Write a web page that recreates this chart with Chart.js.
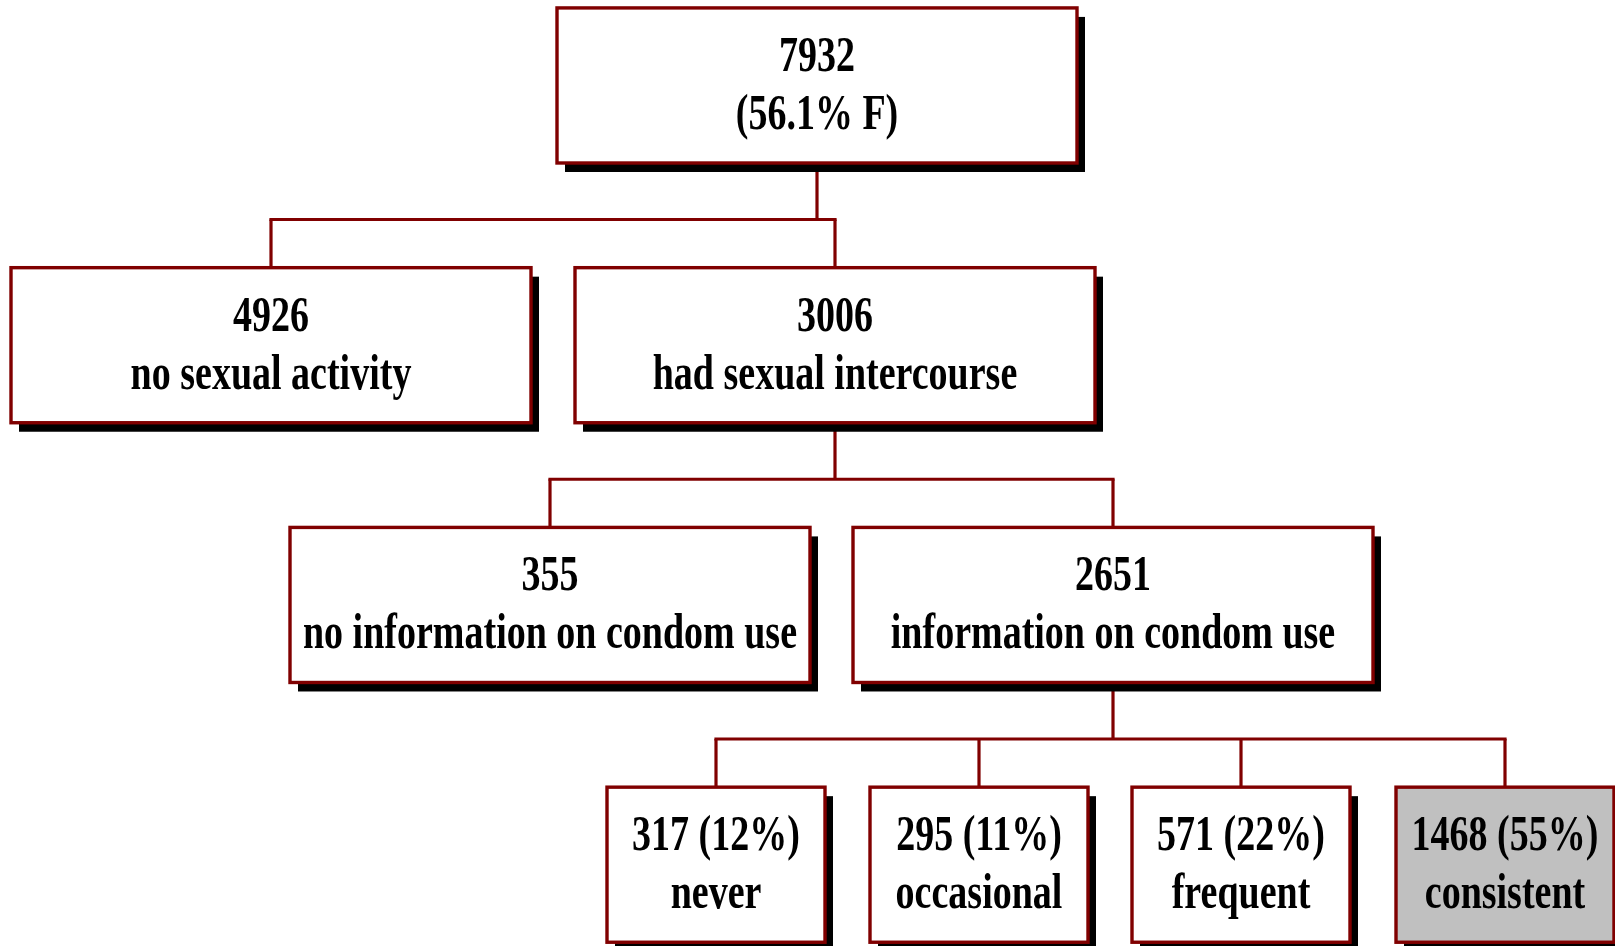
<!DOCTYPE html>
<html>
<head>
<meta charset="utf-8">
<title>Condom use tree</title>
<script src="https://cdn.jsdelivr.net/npm/chart.js@4.4.1/dist/chart.umd.min.js"></script>
<style>
    html, body { margin: 0; padding: 0; background: #ffffff; }
    #wrap { width: 1615px; height: 946px; }
</style>
</head>
<body>
<div id="wrap"><canvas id="tree" width="1615" height="946"></canvas></div>
<script>
// --- data ---
const counts = [7932, 4926, 3006, 355, 2651, 317, 295, 571, 1468];
const shares = ['56.1% F', null, null, null, null, '12%', '11%', '22%', '55%'];
const descriptions = [null, 'no sexual activity', 'had sexual intercourse',
    'no information on condom use', 'information on condom use',
    'never', 'occasional', 'frequent', 'consistent'];
const parents = [-1, 0, 0, 2, 2, 4, 4, 4, 4];
const highlighted = [8];

// --- layout (scale units) ---
const nodeX = [817, 271, 835, 550, 1113, 716, 979, 1241, 1505];
const nodeLevel = [0, 1, 1, 2, 2, 3, 3, 3, 3];
const levelBoxWidth = [520, 520, 520, 218];
const boxHeight = 0.597; // in level units

const BORDER = '#800000';
const SHADOW = '#000000';
const FONT = 'bold 50px "Liberation Serif", "Times New Roman", serif';

function nodeLines(i) {
    if (i === 0) return [String(counts[i]), '(' + shares[i] + ')'];
    if (shares[i]) return [counts[i] + ' (' + shares[i] + ')', descriptions[i]];
    return [String(counts[i]), descriptions[i]];
}

function boxRect(scales, i) {
    const { x, y } = scales;
    const w = levelBoxWidth[nodeLevel[i]];
    const left = x.getPixelForValue(nodeX[i] - w / 2);
    const right = x.getPixelForValue(nodeX[i] + w / 2);
    const top = y.getPixelForValue(nodeLevel[i] - boxHeight / 2);
    const bottom = y.getPixelForValue(nodeLevel[i] + boxHeight / 2);
    return { left, right, top, bottom, cx: x.getPixelForValue(nodeX[i]) };
}

const treePlugin = {
    id: 'treePlugin',
    beforeDatasetsDraw(chart) {
        const ctx = chart.ctx;
        const scales = chart.scales;

        // connectors: parent -> bus -> children
        ctx.save();
        ctx.strokeStyle = BORDER;
        ctx.lineWidth = 3.2;
        const parentIds = [...new Set(parents.filter((p) => p >= 0))];
        parentIds.forEach((p) => {
            const kids = parents.map((q, i) => (q === p ? i : -1)).filter((i) => i >= 0);
            const pr = boxRect(scales, p);
            const kr = kids.map((k) => boxRect(scales, k));
            const busY = pr.bottom + (kr[0].top - pr.bottom) * 0.54;
            ctx.beginPath();
            ctx.moveTo(pr.cx, pr.bottom);
            ctx.lineTo(pr.cx, busY);
            ctx.stroke();
            ctx.beginPath();
            ctx.moveTo(Math.min(kr[0].cx, pr.cx) - 1.6, busY);
            ctx.lineTo(Math.max(kr[kr.length - 1].cx, pr.cx) + 1.6, busY);
            ctx.stroke();
            kr.forEach((r) => {
                ctx.beginPath();
                ctx.moveTo(r.cx, busY);
                ctx.lineTo(r.cx, r.top);
                ctx.stroke();
            });
        });
        ctx.restore();

        // boxes with drop shadow
        counts.forEach((c, i) => {
            const r = boxRect(scales, i);
            const w = r.right - r.left;
            const h = r.bottom - r.top;
            ctx.save();
            ctx.fillStyle = SHADOW;
            ctx.fillRect(r.left + 8, r.top + 9, w, h);
            ctx.fillStyle = highlighted.includes(i) ? '#c0c0c0' : '#ffffff';
            ctx.fillRect(r.left, r.top, w, h);
            ctx.strokeStyle = BORDER;
            ctx.lineWidth = 3.4;
            ctx.strokeRect(r.left, r.top, w, h);

            const lines = nodeLines(i);
            ctx.fillStyle = '#000000';
            ctx.font = FONT;
            ctx.textAlign = 'center';
            ctx.textBaseline = 'alphabetic';
            const baselines = [r.top + 63, r.top + 121];
            lines.forEach((t, k) => {
                ctx.save();
                ctx.translate(r.cx, baselines[k]);
                ctx.scale(0.76, 1);
                ctx.fillText(t, 0, 0);
                ctx.restore();
            });
            ctx.restore();
        });
    }
};

const points = counts.map((c, i) => ({ x: nodeX[i], y: nodeLevel[i] }));

new Chart(document.getElementById('tree'), {
    type: 'scatter',
    data: {
        datasets: [
            {
                label: 'nodes',
                data: points,
                pointRadius: 0,
                pointHoverRadius: 0,
            },
        ]
    },
    options: {
        responsive: false,
        animation: false,
        layout: { padding: 0 },
        plugins: {
            legend: { display: false },
            tooltip: { enabled: false },
        },
        scales: {
            x: { type: 'linear', min: 0, max: 1615, display: false },
            y: { type: 'linear', min: -0.329, max: 3.313, reverse: true, display: false },
        }
    },
    plugins: [treePlugin]
});
</script>
</body>
</html>
